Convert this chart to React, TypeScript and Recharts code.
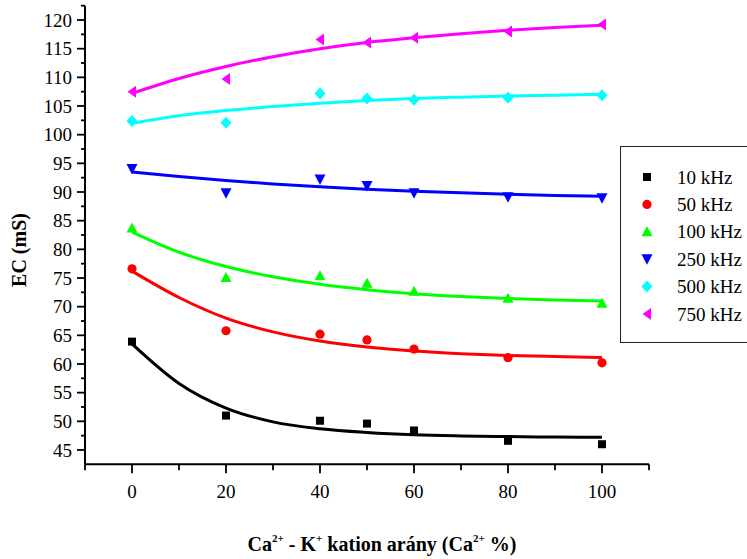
import React from 'react';
import { ComposedChart, Line, XAxis, YAxis } from 'recharts';

// measured points (Ca2+ share, %)
const xPoints = [0, 20, 40, 50, 60, 80, 100];
const ec10 = [63.9, 51.0, 50.1, 49.6, 48.4, 46.6, 46.0];
const ec50 = [76.6, 65.8, 65.2, 64.2, 62.6, 61.1, 60.2];
const ec100 = [83.7, 75.1, 75.4, 74.1, 72.7, 71.45, 70.6];
const ec250 = [94.0, 89.8, 92.2, 91.05, 89.8, 89.1, 88.9];
const ec500 = [102.4, 102.1, 107.2, 106.3, 106.1, 106.45, 106.9];
const ec750 = [107.5, 109.7, 116.6, 116.1, 116.9, 118.0, 119.2];

// fitted curves
const xFit = [0, 10, 20, 30, 40, 50, 60, 70, 80, 90, 100];
const fit10 = [63.5, 56.6, 52.3, 49.9, 48.7, 48.05, 47.65, 47.45, 47.33, 47.26, 47.22];
const fit50 = [76.2, 71.6, 68.0, 65.6, 64.0, 62.95, 62.25, 61.8, 61.5, 61.3, 61.15];
const fit100 = [83.0, 79.5, 77.0, 75.2, 73.9, 72.95, 72.27, 71.77, 71.42, 71.17, 71.0];
const fit250 = [93.5, 92.7, 92.0, 91.4, 90.9, 90.5, 90.15, 89.85, 89.6, 89.4, 89.25];
const fit500 = [102.0, 103.3, 104.2, 104.9, 105.5, 105.95, 106.3, 106.55, 106.75, 106.9, 107.05];
const fit750 = [107.2, 109.8, 111.9, 113.6, 115.0, 116.1, 116.9, 117.6, 118.2, 118.7, 119.1];

const seriesNames = ['10 kHz', '50 kHz', '100 kHz', '250 kHz', '500 kHz', '750 kHz'];

const yMajor = [45, 50, 55, 60, 65, 70, 75, 80, 85, 90, 95, 100, 105, 110, 115, 120];
const yMinor = [47.5, 52.5, 57.5, 62.5, 67.5, 72.5, 77.5, 82.5, 87.5, 92.5, 97.5, 102.5, 107.5, 112.5, 117.5, 122.5];
const xMajor = [0, 20, 40, 60, 80, 100];
const xMinor = [-10, 10, 30, 50, 70, 90, 110];

const FONT = 'Liberation Serif, DejaVu Serif, serif';
const txt = { fontFamily: FONT };

type Shape = 'square' | 'circle' | 'up' | 'down' | 'diamond' | 'left';

const series: { name: string; color: string; shape: Shape; pts: number[]; fit: number[] }[] = [
  { name: seriesNames[0], color: '#000000', shape: 'square', pts: ec10, fit: fit10 },
  { name: seriesNames[1], color: '#ff0000', shape: 'circle', pts: ec50, fit: fit50 },
  { name: seriesNames[2], color: '#00ff00', shape: 'up', pts: ec100, fit: fit100 },
  { name: seriesNames[3], color: '#0000ff', shape: 'down', pts: ec250, fit: fit250 },
  { name: seriesNames[4], color: '#00ffff', shape: 'diamond', pts: ec500, fit: fit500 },
  { name: seriesNames[5], color: '#ff00ff', shape: 'left', pts: ec750, fit: fit750 },
];

const Marker = ({ shape, cx, cy, color }: { shape: Shape; cx: number; cy: number; color: string }) => {
  switch (shape) {
    case 'square':
      return <rect x={cx - 4} y={cy - 4} width={8} height={8} fill={color} />;
    case 'circle':
      return <circle cx={cx} cy={cy} r={4.6} fill={color} />;
    case 'up':
      return <polygon points={`${cx},${cy - 5.5} ${cx + 5.5},${cy + 4.5} ${cx - 5.5},${cy + 4.5}`} fill={color} />;
    case 'down':
      return <polygon points={`${cx - 5.5},${cy - 5} ${cx + 5.5},${cy - 5} ${cx},${cy + 5.5}`} fill={color} />;
    case 'diamond':
      return <polygon points={`${cx},${cy - 6} ${cx + 5.5},${cy} ${cx},${cy + 6} ${cx - 5.5},${cy}`} fill={color} />;
    default:
      return <polygon points={`${cx - 4.5},${cy} ${cx + 4},${cy - 6} ${cx + 4},${cy + 6}`} fill={color} />;
  }
};

const YTick = (props: any) => {
  const { x, y, payload } = props;
  const major = yMajor.includes(payload.value);
  return (
    <g>
      <line x1={x} x2={x - (major ? 8 : 4)} y1={y} y2={y} stroke="#000" strokeWidth={1.8} />
      {major && (
        <text x={x - 13} y={y} dy="0.35em" textAnchor="end" style={txt} fontSize={19} fill="#000">
          {payload.value}
        </text>
      )}
    </g>
  );
};

const XTick = (props: any) => {
  const { x, y, payload } = props;
  const major = xMajor.includes(payload.value);
  return (
    <g>
      <line x1={x} x2={x} y1={y} y2={y + (major ? 9 : 6)} stroke="#000" strokeWidth={1.8} />
      {major && (
        <text x={x} y={y + 27} dy="0.35em" textAnchor="middle" style={txt} fontSize={19} fill="#000">
          {payload.value}
        </text>
      )}
    </g>
  );
};

export default function App() {
  const fitRows = (fit: number[]) => xFit.map((x, i) => ({ x, y: fit[i] }));
  const ptRows = (pts: number[]) => xPoints.map((x, i) => ({ x, y: pts[i] }));

  return (
    <div style={{ position: 'absolute', left: 0, top: 0, width: 747, height: 559, overflow: 'hidden', background: '#fff' }}>
      <ComposedChart width={747} height={559} margin={{ top: 5.7, right: 98, left: 0, bottom: 34.7 }}>
        <XAxis
          dataKey="x"
          type="number"
          domain={[-10, 110]}
          ticks={[...xMinor, ...xMajor].sort((a, b) => a - b)}
          tick={<XTick />}
          tickSize={0}
          tickMargin={0}
          height={60}
          axisLine={{ stroke: '#000', strokeWidth: 2 }}
          allowDataOverflow
          interval={0}
        />
        <YAxis
          type="number"
          domain={[42.5, 122.5]}
          ticks={[...yMajor, ...yMinor].sort((a, b) => a - b)}
          tick={<YTick />}
          tickSize={0}
          tickMargin={0}
          width={85}
          axisLine={{ stroke: '#000', strokeWidth: 2 }}
          allowDataOverflow
          interval={0}
        />
        {series.map((s) => (
          <Line
            key={`fit-${s.name}`}
            data={fitRows(s.fit)}
            dataKey="y"
            type="monotone"
            stroke={s.color}
            strokeWidth={3}
            dot={false}
            activeDot={false}
            isAnimationActive={false}
          />
        ))}
        {series.map((s) => (
          <Line
            key={`pts-${s.name}`}
            data={ptRows(s.pts)}
            dataKey="y"
            stroke="none"
            strokeWidth={0}
            activeDot={false}
            isAnimationActive={false}
            dot={(p: any) => <Marker key={`${s.name}-${p.index}`} shape={s.shape} cx={p.cx} cy={p.cy} color={s.color} />}
          />
        ))}
      </ComposedChart>

      {/* legend */}
      <div
        style={{
          position: 'absolute',
          left: 620,
          top: 146,
          width: 160,
          height: 197,
          border: '1.5px solid #222',
          boxSizing: 'border-box',
        }}
      />
      <svg width={747} height={559} style={{ position: 'absolute', left: 0, top: 0 }}>
        {series.map((s, i) => (
          <g key={s.name}>
            <Marker shape={s.shape} cx={647} cy={177 + i * 27.4} color={s.color} />
            <text x={677} y={177 + i * 27.4} dy="0.35em" style={txt} fontSize={19} fill="#000">
              {s.name}
            </text>
          </g>
        ))}
        <text
          transform="translate(26,250) rotate(-90)"
          textAnchor="middle"
          style={txt}
          fontWeight="bold"
          fontSize={20}
          fill="#000"
        >
          EC (mS)
        </text>
        <text x={382} y={551} textAnchor="middle" style={txt} fontWeight="bold" fontSize={20} fill="#000">
          Ca<tspan fontSize={11} dy={-9}>2+</tspan>
          <tspan dy={9}> - K</tspan>
          <tspan fontSize={11} dy={-9}>+</tspan>
          <tspan dy={9}> kation arány (Ca</tspan>
          <tspan fontSize={11} dy={-9}>2+</tspan>
          <tspan dy={9}> %)</tspan>
        </text>
      </svg>
    </div>
  );
}
